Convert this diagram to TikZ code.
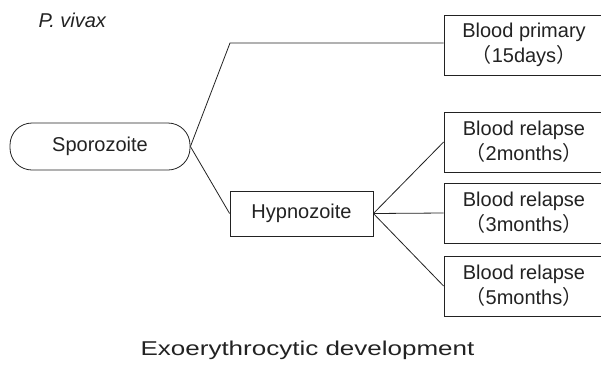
\documentclass[tikz,border=0pt]{standalone}
\usepackage{fontspec}
\usepackage{graphicx}
\setmainfont{Liberation Sans}
\newfontfamily\cjk{Noto Sans CJK JP}
\definecolor{ink}{HTML}{222222}
\newcommand{\lp}{{\cjk （}}
\newcommand{\rp}{{\cjk ）}}
\tikzset{
  txt/.style={font=\fontsize{20}{25}\selectfont, text=ink},
  bloodbox/.style={txt, draw=ink, line width=0.8pt, minimum width=160pt, minimum height=60pt, inner sep=0pt, align=center},
  hypbox/.style={txt, draw=ink, line width=0.8pt, minimum width=143pt, minimum height=45pt, inner sep=0pt},
  sporobox/.style={txt, draw=ink, line width=0.8pt, rounded corners=22pt, minimum width=180pt, minimum height=47pt, inner sep=0pt},
  link/.style={draw=ink, line width=0.8pt}
}
\begin{document}
\begin{tikzpicture}[x=1pt, y=-1pt]
\useasboundingbox (0,0) rectangle (601,376);
\node[txt, anchor=base west, font=\fontsize{20}{25}\selectfont\itshape] (species) at (35,27) {P. vivax};
\node[sporobox] (sporo) at (100,146.5) {Sporozoite};
\node[hypbox] (hyp) at (301.5,213.5) {Hypnozoite};
\node[bloodbox] (prim) at (524,45) {Blood primary\\\lp 15days\rp};
\node[bloodbox] (r2) at (524,142) {Blood relapse\\\lp 2months\rp};
\node[bloodbox] (r3) at (524,213) {Blood relapse\\\lp 3months\rp};
\node[bloodbox] (r5) at (524,286) {Blood relapse\\\lp 5months\rp};
\coordinate (bend) at (230,43);
\draw[link] (sporo.east) -- (bend) -- (bend -| prim.west);
\draw[link] (sporo.east) -- (hyp.west);
\draw[link] (hyp.east) -- (r2.west);
\draw[link] (hyp.east) -- (r3.west);
\draw[link] (hyp.east) -- (r5.west);
\node[txt, anchor=base] (title) at (307.5,355) {\scalebox{1.3}[1]{Exoerythrocytic development}};
\end{tikzpicture}
\end{document}
